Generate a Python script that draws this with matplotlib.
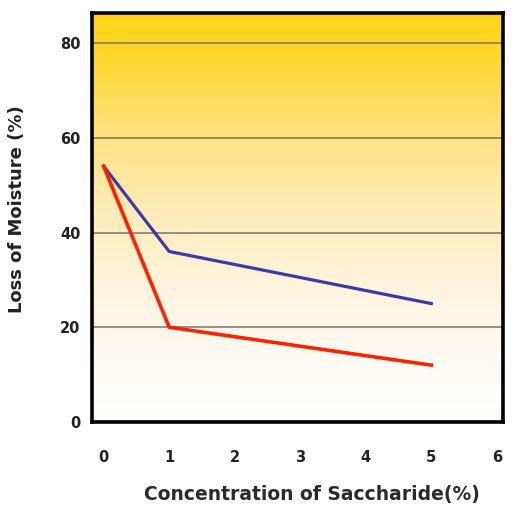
import numpy as np
import matplotlib
matplotlib.use('Agg')
import matplotlib.pyplot as plt
from matplotlib.colors import LinearSegmentedColormap

# data
concentration = [0, 1, 5]
loss_blue = [54, 36, 25]
loss_red = [54, 20, 12]
x_ticks = [0, 1, 2, 3, 4, 5, 6]
y_ticks = [0, 20, 40, 60, 80]

plt.rcParams['font.family'] = ['DejaVu Sans']

fig = plt.figure(figsize=(5.13, 5.09), dpi=100)
ax = fig.add_axes([0.179, 0.171, 0.801, 0.803])

xlim = (-0.18, 6.09)
ylim = (0, 86.3)

# yellow -> white background gradient
cmap = LinearSegmentedColormap.from_list(
    'bg', [(0.0, '#ffffff'), (0.12, '#fffcf7'), (0.3, '#fff5e3'),
           (0.5, '#ffedbd'), (0.72, '#ffe17a'), (0.9, '#ffd62a'), (1.0, '#ffd51a')])
grad = np.linspace(0, 1, 256).reshape(-1, 1)
ax.imshow(grad, aspect='auto', cmap=cmap, origin='lower',
          extent=[xlim[0], xlim[1], ylim[0], ylim[1]], zorder=0)

for y in y_ticks[1:]:
    ax.axhline(y, color='#7a7560', linewidth=1.1, zorder=1)

ax.plot(concentration, loss_blue, color='#3a3aa8', linewidth=2.3, zorder=3)
ax.plot(concentration, loss_red, color='#ff2200', linewidth=2.6, zorder=3)

ax.set_xlim(*xlim)
ax.set_ylim(*ylim)
ax.set_xticks(x_ticks)
ax.set_yticks(y_ticks)
ax.tick_params(length=0, labelsize=10.5)
ax.tick_params(axis='x', pad=20)
ax.tick_params(axis='y', pad=8)
for lbl in ax.get_xticklabels() + ax.get_yticklabels():
    lbl.set_fontweight('bold')
    lbl.set_color('#222222')

for sp in ax.spines.values():
    sp.set_linewidth(2.6)
    sp.set_color('black')

ax.set_xlabel('Concentration of Saccharide(%)', fontsize=13.5, fontweight='bold',
              color='#2a2a2a')
ax.xaxis.set_label_coords(0.535, -0.155)
ax.set_ylabel('Loss of Moisture (%)', fontsize=13, fontweight='bold',
              color='#222222')
ax.yaxis.set_label_coords(-0.16, 0.52)

fig.savefig('out.png', dpi=100)
